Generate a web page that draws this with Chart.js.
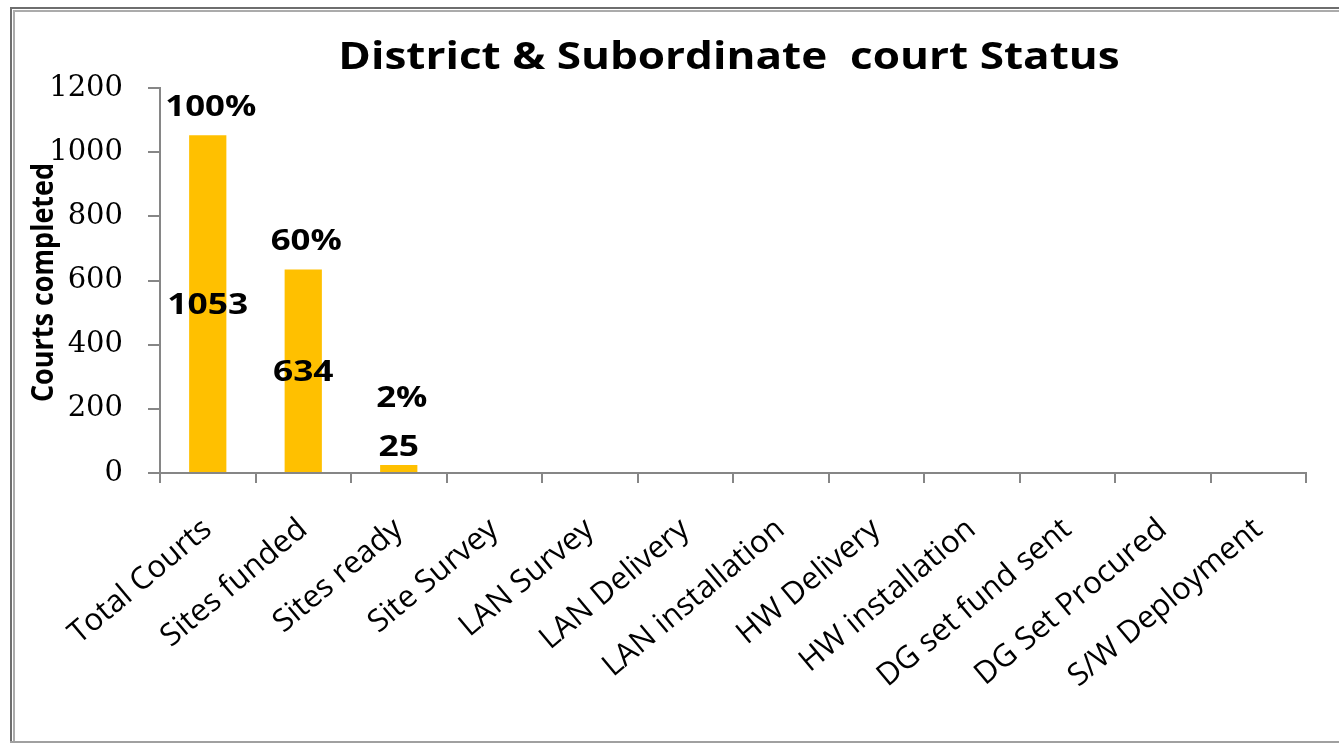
<!DOCTYPE html>
<html><head><meta charset="utf-8">
<script src="https://cdn.jsdelivr.net/npm/chart.js@4.4.0/dist/chart.umd.min.js"></script>
<style>html,body{margin:0;padding:0;background:#fff;overflow:hidden}#wrap{position:relative;width:1339px;height:743px}</style>
</head><body><div id="wrap"><canvas id="c" width="1339" height="743"></canvas></div>
<script>
const chartTitle = 'District & Subordinate  court Status';
const yAxisTitle = 'Courts completed';
const categories = ['Total Courts','Sites funded','Sites ready','Site Survey','LAN Survey','LAN Delivery','LAN installation','HW Delivery','HW installation','DG set fund sent','DG Set Procured','S/W Deployment'];
const courtsCompleted = [1053, 634, 25, null, null, null, null, null, null, null, null, null];
const percentLabels = ['100%', '60%', '2%', null, null, null, null, null, null, null, null, null];
const yMin = 0, yMax = 1200, yStep = 200;

function stretchedText(ctx, text, x, y, sx) {
  ctx.save();
  ctx.translate(x, y);
  ctx.scale(sx, 1);
  ctx.fillText(text, 0, 0);
  ctx.restore();
}

const decor = {
  id: 'decor',
  beforeDraw(chart) {
    const ctx = chart.ctx;
    ctx.save();
    ctx.fillStyle = '#fff';
    ctx.fillRect(0, 0, chart.width, chart.height);
    ctx.fillStyle = '#6e6e6e';
    ctx.fillRect(10, 7, chart.width - 10, 2);
    ctx.fillRect(10, 7, 2, 736);
    ctx.fillStyle = '#ababab';
    ctx.fillRect(13, 10, chart.width - 13, 2);
    ctx.fillRect(13, 10, 2, 733);
    ctx.fillStyle = '#a0a0a0';
    ctx.fillRect(10, 741, chart.width - 10, 2);
    ctx.restore();
  },
  afterDatasetsDraw(chart) {
    const ctx = chart.ctx;
    const area = chart.chartArea;
    ctx.save();
    ctx.fillStyle = '#000';
    ctx.textAlign = 'center';
    ctx.textBaseline = 'alphabetic';
    // title
    ctx.font = 'bold 38px "Open Sans"';
    stretchedText(ctx, chartTitle, (area.left + area.right) / 2 - 4, 69, 1.16);
    // y title
    ctx.save();
    ctx.font = 'bold 27px "Open Sans"';
    ctx.translate(53, (area.top + area.bottom) / 2 + 2);
    ctx.rotate(-Math.PI / 2);
    ctx.scale(1, 1.12);
    ctx.fillText(yAxisTitle, 0, 0);
    ctx.restore();
    // data labels
    const size = 29;
    ctx.font = 'bold ' + size + 'px "Open Sans"';
    const half = 0.714 * size / 2;
    const meta = chart.getDatasetMeta(0);
    meta.data.forEach((bar, i) => {
      const v = courtsCompleted[i];
      if (v === null || v === undefined) return;
      const top = bar.y, base = bar.base;
      const h = base - top;
      const vy = h >= 60 ? (top + base) / 2 : top - 19;
      stretchedText(ctx, String(v), bar.x, vy + half, 1.22);
      if (percentLabels[i]) {
        const py = Math.min(top - 30, vy - 49);
        stretchedText(ctx, percentLabels[i], bar.x + 3, py + half, 1.2);
      }
    });
    ctx.restore();
  }
};

new Chart(document.getElementById('c'), {
  type: 'bar',
  data: {
    labels: categories,
    datasets: [{
      label: 'Courts completed',
      data: courtsCompleted,
      backgroundColor: '#FFC000',
      borderWidth: 0,
      categoryPercentage: 1,
      barPercentage: 0.39
    }]
  },
  options: {
    responsive: false,
    animation: false,
    devicePixelRatio: 1,
    layout: { padding: { left: 20, right: 33, top: 88, bottom: 0 } },
    plugins: { legend: { display: false }, title: { display: false }, tooltip: { enabled: false } },
    scales: {
      x: {
        afterFit(scale) { scale.height = 270; },
        grid: { drawOnChartArea: false, drawTicks: true, tickLength: 10, color: '#868686', lineWidth: 2, offset: true },
        border: { color: '#868686', width: 2 },
        ticks: { autoSkip: false, minRotation: 40, maxRotation: 40, padding: 28, color: '#000', font: { family: '"Open Sans"', size: 31 } }
      },
      y: {
        min: yMin, max: yMax,
        afterFit(scale) { scale.width = 140; },
        grid: { drawOnChartArea: false, drawTicks: true, tickLength: 12, color: '#868686', lineWidth: 2 },
        border: { color: '#868686', width: 2 },
        ticks: { stepSize: yStep, padding: 25, color: '#000', font: { family: '"DejaVu Serif"', size: 29 }, callback: (v) => String(v) }
      }
    }
  },
  plugins: [decor]
});
</script>
</body></html>
